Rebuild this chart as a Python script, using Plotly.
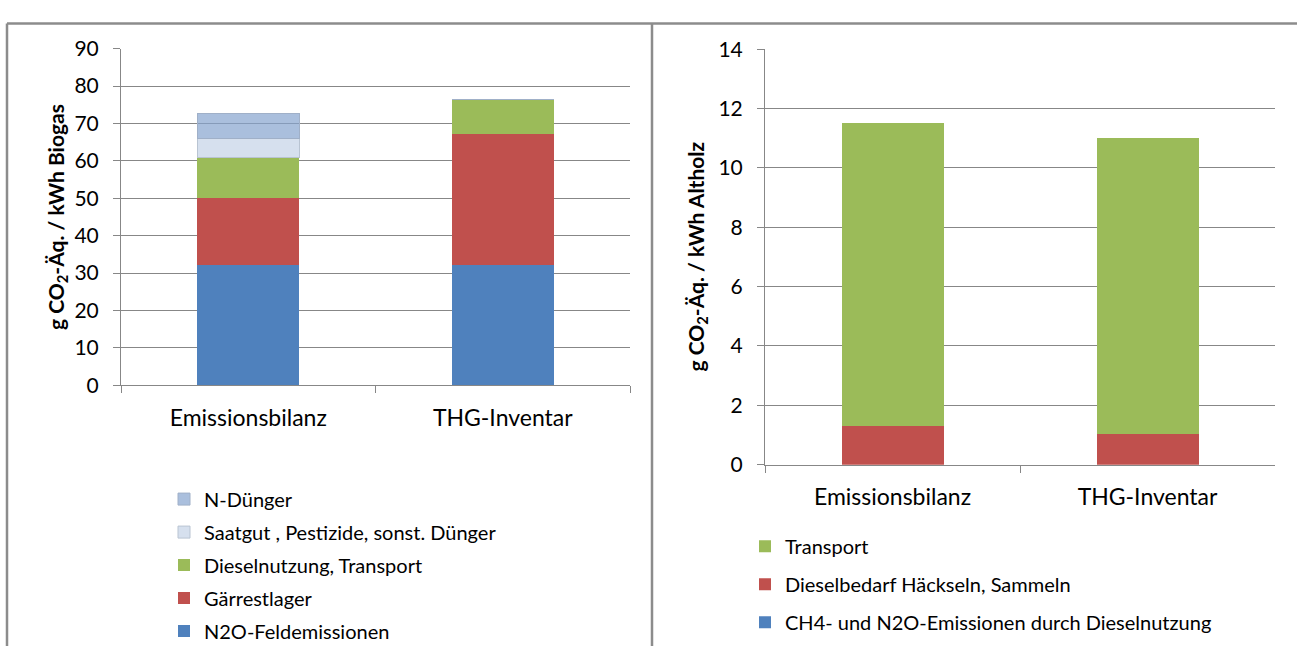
import plotly.graph_objects as go

# --- data -------------------------------------------------------------
categories = ["Emissionsbilanz", "THG-Inventar"]

# Biogas (g CO2-Äq. / kWh Biogas), stacked bottom -> top
biogas_series = ["N2O-Feldemissionen", "Gärrestlager", "Dieselnutzung, Transport",
                 "Saatgut , Pestizide, sonst. Dünger", "N-Dünger"]
n2o_feld = [32.1, 32.1]
gaerrestlager = [18.1, 35.2]
diesel_transport = [10.7, 9.2]
saatgut = [5.2, 0.0]
n_duenger = [6.6, 0.0]

# Altholz (g CO2-Äq. / kWh Altholz), stacked bottom -> top
altholz_series = ["CH4- und N2O-Emissionen durch Dieselnutzung",
                  "Dieselbedarf Häckseln, Sammeln", "Transport"]
ch4_n2o_diesel = [0.0, 0.0]
diesel_haeckseln = [1.3, 1.05]
transport = [10.2, 9.95]

left_ticks = list(range(0, 91, 10))
right_ticks = list(range(0, 15, 2))

# --- styling ------------------------------------------------------------
W, H = 1297, 657
FONT = "Lato"
GRID = "#878787"
C_BLUE, C_RED, C_GREEN = "#4F81BD", "#C0504D", "#9BBB59"
C_LBLUE = "rgba(134,164,206,0.7)"
C_VLBLUE = "#D6E0EE"


def px_x(p):
    return p / W


def px_y(p):
    return 1 - p / H


fig = go.Figure()

biogas_values = [n2o_feld, gaerrestlager, diesel_transport, saatgut, n_duenger]
biogas_colors = [C_BLUE, C_RED, C_GREEN, C_VLBLUE, C_LBLUE]
biogas_lines = [None, None, None, "#B9C4D2", "#A0B0C8"]
for i, (name, vals, col, lc) in enumerate(zip(biogas_series, biogas_values,
                                              biogas_colors, biogas_lines)):
    fig.add_trace(go.Bar(
        x=categories, y=vals, name=name, xaxis="x", yaxis="y",
        marker=dict(color=col, line=dict(color=lc or col, width=1 if lc else 0)),
        width=0.4, legend="legend", legendgroup=name, legendrank=100 - i,
    ))

altholz_values = [ch4_n2o_diesel, diesel_haeckseln, transport]
altholz_colors = [C_BLUE, C_RED, C_GREEN]
for i, (name, vals, col) in enumerate(zip(altholz_series, altholz_values, altholz_colors)):
    fig.add_trace(go.Bar(
        x=categories, y=vals, name=name, xaxis="x2", yaxis="y2",
        marker=dict(color=col, line=dict(width=0)),
        width=0.4, legend="legend2", legendgroup=name, legendrank=100 - i,
    ))

tick_font = dict(family=FONT, size=21, color="#000000")
cat_font = dict(family=FONT, size=23, color="#000000")

xaxis_common = dict(
    type="category", showline=True, linecolor=GRID, linewidth=1,
    ticks="outside", ticklen=7, tickcolor=GRID, tickson="boundaries",
    showgrid=False, tickfont=cat_font, ticklabelstandoff=12, fixedrange=True,
)
yaxis_common = dict(
    showline=True, linecolor=GRID, linewidth=1, ticks="outside", ticklen=7,
    tickcolor=GRID, showgrid=True, gridcolor=GRID, gridwidth=1,
    tickfont=tick_font, zeroline=False, fixedrange=True, ticklabelstandoff=10,
)

legend_font = dict(family=FONT, size=20, color="#000000")
legend_common = dict(
    font=legend_font, traceorder="grouped",
    bgcolor="rgba(0,0,0,0)", xanchor="left", yanchor="top",
    itemwidth=30,
)

title_font = dict(family=FONT, size=21, color="#000000")

fig.update_layout(
    width=W, height=H,
    margin=dict(l=0, r=0, t=0, b=0),
    paper_bgcolor="#FFFFFF", plot_bgcolor="#FFFFFF",
    barmode="stack", showlegend=True,
    xaxis=dict(domain=[px_x(121), px_x(630)], anchor="y", **xaxis_common),
    yaxis=dict(domain=[px_y(386), px_y(36)], anchor="x", range=[0, 90],
               tickvals=left_ticks, **yaxis_common),
    xaxis2=dict(domain=[px_x(765), px_x(1275)], anchor="y2", **xaxis_common),
    yaxis2=dict(domain=[px_y(468.5), px_y(36.7)], anchor="x2", range=[0, 14],
                tickvals=right_ticks, **yaxis_common),
    legend=dict(x=px_x(164), y=px_y(484), tracegroupgap=4, **legend_common),
    legend2=dict(x=px_x(745), y=px_y(533), tracegroupgap=9, **legend_common),
    annotations=[
        dict(text="<b>g CO<sub>2</sub>-Äq. / kWh Biogas</b>", textangle=-90,
             x=px_x(57), y=px_y(211), xref="paper", yref="paper",
             xanchor="center", yanchor="middle",
             showarrow=False, font=title_font),
        dict(text="<b>g CO<sub>2</sub>-Äq. / kWh Altholz</b>", textangle=-90,
             x=px_x(697), y=px_y(252), xref="paper", yref="paper",
             xanchor="center", yanchor="middle",
             showarrow=False, font=title_font),
    ],
    shapes=[
        # outer frame (top and left edges) and panel divider
        dict(type="line", xref="paper", yref="paper", x0=px_x(7), x1=1.0,
             y0=px_y(10), y1=px_y(10), line=dict(color="#8C8C8C", width=2.5)),
        dict(type="line", xref="paper", yref="paper", x0=px_x(7), x1=px_x(7),
             y0=px_y(10), y1=0, line=dict(color="#8C8C8C", width=2.5)),
        dict(type="line", xref="paper", yref="paper", x0=px_x(652), x1=px_x(652),
             y0=px_y(10), y1=0, line=dict(color="#8C8C8C", width=2.5)),
    ],
)

fig.write_html("out.html")
